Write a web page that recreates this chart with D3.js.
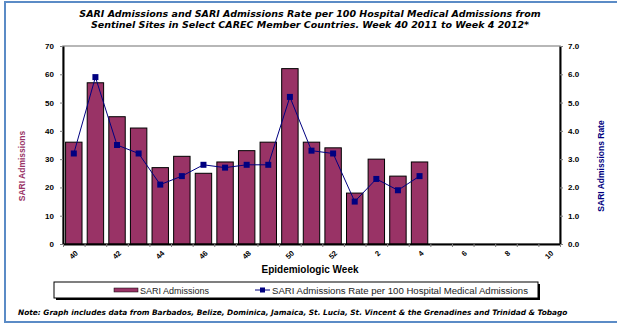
<!DOCTYPE html>
<html>
<head>
<meta charset="utf-8">
<script src="https://cdn.jsdelivr.net/npm/d3@7"></script>
<style>
  body { margin: 0; background: #fff; }
  svg { display: block; font-family: "Liberation Sans", Arial, sans-serif; }
</style>
</head>
<body>
<svg id="chart" width="617" height="326"></svg>
<script>
// Epidemiologic weeks 40/2011 .. 10/2012
const weeks = ["40","41","42","43","44","45","46","47","48","49","50","51","52",
               "1","2","3","4","5","6","7","8","9","10"];
// SARI admissions per week (weeks 40 .. 4)
const admissions = [36, 57, 45, 41, 27, 31, 25, 29, 33, 36, 62, 36, 34, 18, 30, 24, 29];
// SARI admissions per 100 hospital medical admissions
const rates = [3.2, 5.9, 3.5, 3.2, 2.1, 2.4, 2.8, 2.7, 2.8, 2.8, 5.2, 3.3, 3.2, 1.5, 2.3, 1.9, 2.4];
const countTicks = [0, 10, 20, 30, 40, 50, 60, 70];
const rateTicks = [0, 1, 2, 3, 4, 5, 6, 7];
const weekTickLabels = ["40","42","44","46","48","50","52","2","4","6","8","10"];

const titleLines = [
  "SARI Admissions and SARI Admissions Rate per 100 Hospital Medical Admissions from",
  "Sentinel Sites in Select CAREC Member Countries. Week 40 2011 to Week 4 2012*"
];
const noteText = "Note: Graph includes data from Barbados, Belize, Dominica, Jamaica, St. Lucia, St. Vincent & the Grenadines and Trinidad & Tobago";

const barColor = "#993366";
const lineColor = "#000080";
const heavyFont = "DejaVu Sans, Verdana, sans-serif";

const svg = d3.select("#chart");
const plot = { left: 63, right: 560, top: 46, bottom: 244 };

// outer frame
svg.append("rect")
  .attr("x", 5).attr("y", 2).attr("width", 640).attr("height", 320)
  .attr("fill", "none").attr("stroke", "#5b8bc6").attr("stroke-width", 2);

// title
svg.append("g").selectAll("text").data(titleLines).join("text")
  .attr("x", 310).attr("y", (d, i) => 17 + i * 11)
  .attr("text-anchor", "middle")
  .attr("font-family", heavyFont)
  .attr("font-size", 9.5).attr("font-weight", "bold").attr("font-style", "italic")
  .attr("fill", "#000")
  .text(d => d);

const x = d3.scaleBand().domain(weeks).range([plot.left, plot.right])
  .paddingInner(0.24).paddingOuter(0.12);
const xEdge = d3.scaleLinear().domain([0, weeks.length]).range([plot.left, plot.right]);
const yCount = d3.scaleLinear().domain([0, 70]).range([plot.bottom, plot.top]);
const yRate = d3.scaleLinear().domain([0, 7]).range([plot.bottom, plot.top]);

// plot-area border
svg.append("rect")
  .attr("x", plot.left).attr("y", plot.top)
  .attr("width", plot.right - plot.left).attr("height", plot.bottom - plot.top)
  .attr("fill", "none").attr("stroke", "#a0a0a0").attr("stroke-width", 1.5);

// bars
svg.append("g").selectAll("rect").data(admissions).join("rect")
  .attr("x", (d, i) => x(weeks[i]))
  .attr("width", x.bandwidth())
  .attr("y", d => yCount(d))
  .attr("height", d => yCount(0) - yCount(d))
  .attr("fill", barColor)
  .attr("stroke", "#000").attr("stroke-width", 1);

// rate line
const line = d3.line()
  .x((d, i) => x(weeks[i]) + x.bandwidth() / 2)
  .y(d => yRate(d));
svg.append("path").datum(rates)
  .attr("d", line)
  .attr("fill", "none").attr("stroke", lineColor).attr("stroke-width", 1);
svg.append("g").selectAll("rect").data(rates).join("rect")
  .attr("x", (d, i) => x(weeks[i]) + x.bandwidth() / 2 - 3)
  .attr("y", d => yRate(d) - 3)
  .attr("width", 6).attr("height", 6)
  .attr("fill", lineColor);

function styleAxis(g) {
  g.select(".domain").attr("stroke", "#000").attr("stroke-width", 2);
  g.selectAll(".tick line").attr("stroke", "#808080");
  g.selectAll(".tick text").attr("fill", "#000").attr("font-size", 8)
    .attr("font-weight", "bold").attr("font-family", "Liberation Sans, Arial, sans-serif");
}

// left axis
svg.append("g")
  .attr("transform", `translate(${plot.left},0)`)
  .call(d3.axisLeft(yCount).tickValues(countTicks).tickSize(3).tickSizeOuter(0).tickPadding(6))
  .call(styleAxis);

// right axis
svg.append("g")
  .attr("transform", `translate(${plot.right},0)`)
  .call(d3.axisRight(yRate).tickValues(rateTicks).tickSize(3).tickSizeOuter(0).tickPadding(5)
    .tickFormat(d3.format(".1f")))
  .call(styleAxis);

// bottom axis: ticks on week boundaries
svg.append("g")
  .attr("transform", `translate(0,${plot.bottom})`)
  .call(d3.axisBottom(xEdge).tickValues(d3.range(weeks.length + 1)).tickSize(3)
    .tickSizeOuter(0).tickFormat(""))
  .call(styleAxis);

// week labels, every other week, rotated
svg.append("g").selectAll("text").data(weekTickLabels).join("text")
  .attr("transform", d => `translate(${x(d) + x.bandwidth() / 2 + 1},${plot.bottom + 6}) rotate(-45)`)
  .attr("text-anchor", "end")
  .attr("dy", "0.7em")
  .attr("font-size", 7.5).attr("font-weight", "bold").attr("fill", "#000")
  .text(d => d);

// axis titles
svg.append("text")
  .attr("x", 310).attr("y", 273)
  .attr("text-anchor", "middle")
  .attr("font-size", 10).attr("font-weight", "bold")
  .text("Epidemiologic Week");

svg.append("text")
  .attr("transform", "translate(25,166) rotate(-90)")
  .attr("text-anchor", "middle")
  .attr("font-size", 8.5).attr("font-weight", "bold").attr("fill", barColor)
  .text("SARI Admissions");

svg.append("text")
  .attr("transform", "translate(604,166) rotate(-90)")
  .attr("text-anchor", "middle")
  .attr("font-size", 8.5).attr("font-weight", "bold").attr("fill", lineColor)
  .text("SARI Admissions Rate");

// legend
const legend = svg.append("g");
legend.append("rect")
  .attr("x", 56).attr("y", 284).attr("width", 484).attr("height", 16)
  .attr("fill", "#000");
legend.append("rect")
  .attr("x", 54).attr("y", 282).attr("width", 484).attr("height", 16)
  .attr("fill", "#fff").attr("stroke", "#000").attr("stroke-width", 1);
legend.append("rect")
  .attr("x", 114).attr("y", 288).attr("width", 24).attr("height", 4)
  .attr("fill", barColor).attr("stroke", "#000").attr("stroke-width", 0.5);
legend.append("text")
  .attr("x", 140).attr("y", 293.5)
  .attr("font-size", 9).attr("fill", "#222")
  .text("SARI Admissions");
legend.append("line")
  .attr("x1", 255).attr("x2", 270).attr("y1", 290).attr("y2", 290)
  .attr("stroke", lineColor).attr("stroke-width", 1);
legend.append("rect")
  .attr("x", 260).attr("y", 287.5).attr("width", 5).attr("height", 5)
  .attr("fill", lineColor);
legend.append("text")
  .attr("x", 272).attr("y", 293.5)
  .attr("font-size", 9.6).attr("fill", "#222")
  .text("SARI Admissions Rate per 100 Hospital Medical Admissions");

// footnote
svg.append("text")
  .attr("x", 18).attr("y", 315)
  .attr("font-family", heavyFont)
  .attr("font-size", 7.4).attr("font-weight", "bold").attr("font-style", "italic")
  .text(noteText);
</script>
</body>
</html>
